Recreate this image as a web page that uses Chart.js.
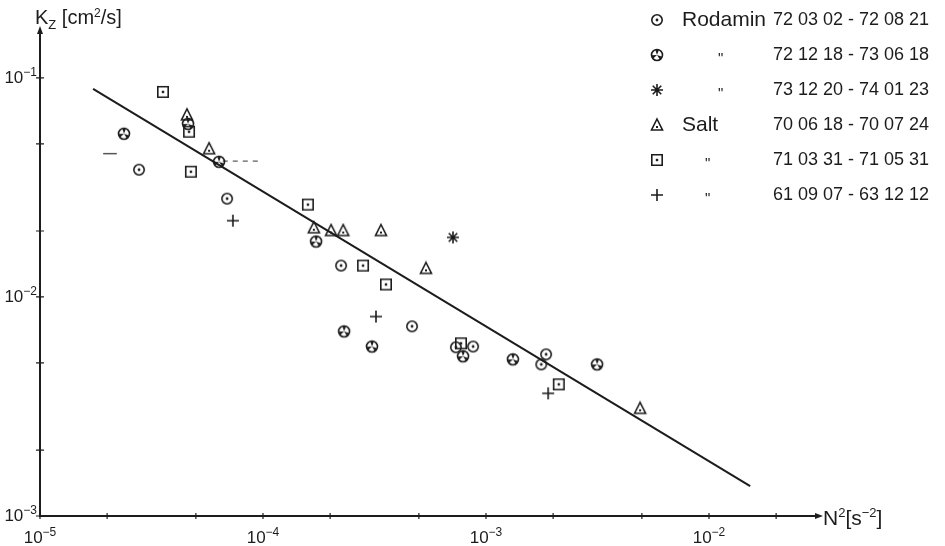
<!DOCTYPE html>
<html lang="en">
<head>
<meta charset="UTF-8">
<title>Kz versus N2</title>
<script src="https://cdn.jsdelivr.net/npm/chart.js"></script>
<style>
  html, body { margin: 0; padding: 0; background: #fff; }
  #wrap { width: 945px; height: 546px; }
</style>
</head>
<body>
<div id="wrap"><canvas id="chart" width="945" height="546"></canvas></div>
<script>
// N^2 [s^-2] (x) and Kz [cm^2/s] (y)
const rodA_N = [2.78e-5, 6.9e-5, 2.24e-4, 4.66e-4, 7.33e-4, 8.75e-4, 1.86e-3, 1.77e-3];
const rodA_K = [0.0381, 0.0281, 0.0139, 0.00734, 0.00589, 0.00594, 0.00547, 0.00492];

const rodB_N = [2.38e-5, 4.61e-5, 6.35e-5, 1.73e-4, 2.31e-4, 3.08e-4, 7.89e-4, 1.32e-3, 3.15e-3];
const rodB_K = [0.0556, 0.0617, 0.0414, 0.0179, 0.00696, 0.00594, 0.00536, 0.00519, 0.00492];

const rodC_N = [7.11e-4];
const rodC_K = [0.0187];

const saltA_N = [4.56e-5, 5.73e-5, 1.69e-4, 2.02e-4, 2.29e-4, 3.38e-4, 5.38e-4, 4.91e-3];
const saltA_K = [0.0678, 0.0475, 0.0207, 0.0201, 0.0201, 0.0201, 0.0135, 0.0031];

const saltB_N = [3.56e-5, 4.66e-5, 4.75e-5, 1.59e-4, 2.81e-4, 3.56e-4, 7.72e-4, 2.12e-3];
const saltB_K = [0.0863, 0.0568, 0.0373, 0.0264, 0.0139, 0.0114, 0.00614, 0.00399];

const saltC_N = [7.33e-5, 3.21e-4, 1.9e-3];
const saltC_K = [0.0223, 0.00814, 0.00363];

// fitted line end points
const fitN = [1.73e-5, 1.53e-2];
const fitK = [0.0891, 0.00137];

// stray marks on the original (short dash, dashed range)
const dashN = [1.92e-5, 2.21e-5];
const dashK = [0.0451, 0.0451];
const rangeN = [6.6e-5, 9.5e-5];
const rangeK = [0.0417, 0.0417];

const legendNames = ['Rodamin', '"', '"', 'Salt', '"', '"'];
const legendPeriods = ['72 03 02 - 72 08 21', '72 12 18 - 73 06 18', '73 12 20 - 74 01 23',
                       '70 06 18 - 70 07 24', '71 03 31 - 71 05 31', '61 09 07 - 63 12 12'];
const legendSyms = ['circleDot', 'circleCross', 'star', 'triangle', 'squareDot', 'plus'];

const xTickVals = [1e-5, 2e-5, 5e-5, 1e-4, 2e-4, 5e-4, 1e-3, 2e-3, 5e-3, 1e-2, 2e-2];
const xTickExp = [-5, null, null, -4, null, null, -3, null, null, -2, null];
const yTickVals = [1e-3, 2e-3, 5e-3, 1e-2, 2e-2, 5e-2, 1e-1];
const yTickExp = [-3, null, null, -2, null, null, -1];

const ink = '#1c1c1c';
const FONT = '"Liberation Sans", Arial, sans-serif';

function drawSym(g, kind, cx, cy) {
    g.strokeStyle = ink;
    g.fillStyle = ink;
    g.lineWidth = 1.6;
    g.beginPath();
    if (kind === 'circleDot') {
        g.arc(cx, cy, 5.2, 0, Math.PI * 2);
        g.stroke();
        g.beginPath();
        g.arc(cx, cy, 1.4, 0, Math.PI * 2);
        g.fill();
    } else if (kind === 'circleCross') {
        g.arc(cx, cy, 5.5, 0, Math.PI * 2);
        g.stroke();
        g.beginPath();
        g.moveTo(cx, cy); g.arc(cx, cy, 5.5, -1.9, -1.2); g.closePath();
        g.moveTo(cx, cy); g.arc(cx, cy, 5.5, 0.3, 1.0); g.closePath();
        g.moveTo(cx, cy); g.arc(cx, cy, 5.5, 2.4, 3.1); g.closePath();
        g.fill();
    } else if (kind === 'star') {
        for (let i = 0; i < 4; i++) {
            const a = i * Math.PI / 4;
            g.moveTo(cx - 6 * Math.cos(a), cy - 6 * Math.sin(a));
            g.lineTo(cx + 6 * Math.cos(a), cy + 6 * Math.sin(a));
        }
        g.stroke();
    } else if (kind === 'triangle') {
        g.moveTo(cx, cy - 6);
        g.lineTo(cx + 5.5, cy + 5);
        g.lineTo(cx - 5.5, cy + 5);
        g.closePath();
        g.stroke();
        g.fillRect(cx - 1, cy + 1, 2, 2);
    } else if (kind === 'squareDot') {
        g.rect(cx - 5.2, cy - 5.2, 10.4, 10.4);
        g.stroke();
        g.fillRect(cx - 1.2, cy - 1.2, 2.4, 2.4);
    } else if (kind === 'plus') {
        g.moveTo(cx - 6, cy); g.lineTo(cx + 6, cy);
        g.moveTo(cx, cy - 6); g.lineTo(cx, cy + 6);
        g.stroke();
    }
}

function makeSym(kind) {
    const c = document.createElement('canvas');
    c.width = 16; c.height = 16;
    drawSym(c.getContext('2d'), kind, 8, 8);
    return c;
}

function pts(xs, ys) {
    return xs.map((v, i) => ({ x: v, y: ys[i] }));
}

// draws a run of [text, size, dy] pieces starting at x (baseline y)
function drawRun(ctx, parts, x, y, align) {
    let w = 0;
    parts.forEach(p => { ctx.font = p[1] + 'px ' + FONT; w += ctx.measureText(p[0]).width; });
    let cx = align === 'right' ? x - w : align === 'center' ? x - w / 2 : x;
    ctx.textAlign = 'left';
    ctx.textBaseline = 'alphabetic';
    parts.forEach(p => {
        ctx.font = p[1] + 'px ' + FONT;
        ctx.fillText(p[0], cx, y + p[2]);
        cx += ctx.measureText(p[0]).width;
    });
}

function powParts(e) {
    return [['10', 17, 0], ['\u2212' + (-e), 12, -7]];
}

const series = [
    [rodA_N, rodA_K], [rodB_N, rodB_K], [rodC_N, rodC_K],
    [saltA_N, saltA_K], [saltB_N, saltB_K], [saltC_N, saltC_K]
];

const datasets = series.map((s, i) => ({
    label: legendNames[i] + ' ' + legendPeriods[i],
    data: pts(s[0], s[1]),
    pointStyle: makeSym(legendSyms[i]),
    pointRadius: 6,
    showLine: false
}));

datasets.push({
    label: 'fit', data: pts(fitN, fitK), showLine: true, pointRadius: 0,
    borderColor: ink, borderWidth: 2
});
datasets.push({
    label: 'dash', data: pts(dashN, dashK), showLine: true, pointRadius: 0,
    borderColor: '#555', borderWidth: 1.5
});
datasets.push({
    label: 'range', data: pts(rangeN, rangeK), showLine: true, pointRadius: 0,
    borderColor: '#555', borderWidth: 1.2, borderDash: [5, 5]
});

// tick crosses, tick labels, arrow heads, axis titles and the legend block
const decorations = {
    id: 'decorations',
    afterDraw(chart) {
        const { ctx, chartArea: a, scales: { x, y } } = chart;
        ctx.save();
        ctx.strokeStyle = ink;
        ctx.fillStyle = ink;
        ctx.lineWidth = 1.2;
        ctx.beginPath();
        xTickVals.forEach(v => {
            const px = x.getPixelForValue(v);
            ctx.moveTo(px, a.bottom - 3); ctx.lineTo(px, a.bottom + 3);
        });
        yTickVals.forEach(v => {
            const py = y.getPixelForValue(v);
            ctx.moveTo(a.left - 4, py); ctx.lineTo(a.left + 4, py);
        });
        ctx.stroke();

        xTickVals.forEach((v, i) => {
            if (xTickExp[i] === null) return;
            drawRun(ctx, powParts(xTickExp[i]), x.getPixelForValue(v), a.bottom + 27, 'center');
        });
        yTickVals.forEach((v, i) => {
            if (yTickExp[i] === null) return;
            drawRun(ctx, powParts(yTickExp[i]), a.left - 3, y.getPixelForValue(v) + 5, 'right');
        });

        // arrows
        ctx.beginPath();
        ctx.moveTo(a.right + 6, a.bottom);
        ctx.lineTo(a.right - 2, a.bottom - 3);
        ctx.lineTo(a.right - 2, a.bottom + 3);
        ctx.closePath();
        ctx.moveTo(a.left, a.top - 6);
        ctx.lineTo(a.left - 3, a.top + 2);
        ctx.lineTo(a.left + 3, a.top + 2);
        ctx.closePath();
        ctx.fill();

        // axis titles
        drawRun(ctx, [['K', 20, 0], ['Z', 13, 5], [' [cm', 20, 0], ['2', 12, -7], ['/s]', 20, 0]], 35, 24, 'left');
        drawRun(ctx, [['N', 21, 0], ['2', 13, -8], ['[s', 21, 0], ['\u22122', 13, -8], [']', 21, 0]],
                a.right + 6, a.bottom + 9, 'left');

        // legend
        const rowY = [20, 55, 90, 125, 160, 195];
        const nameX = [682, 718, 718, 682, 705, 705];
        rowY.forEach((ry, i) => {
            drawSym(ctx, legendSyms[i], 657, ry);
            ctx.textBaseline = 'middle';
            ctx.textAlign = 'left';
            if (legendNames[i] === '"') {
                ctx.font = '15px ' + FONT;
                ctx.fillText(legendNames[i], nameX[i], ry + 4);
            } else {
                ctx.font = '21px ' + FONT;
                ctx.fillText(legendNames[i], nameX[i], ry);
            }
            ctx.font = '18px ' + FONT;
            ctx.fillText(legendPeriods[i], 773, ry);
        });
        ctx.restore();
    }
};

new Chart(document.getElementById('chart'), {
    type: 'scatter',
    data: { datasets: datasets },
    options: {
        responsive: false,
        animation: false,
        layout: { padding: { top: 32, right: 128, left: 0, bottom: 0 } },
        plugins: { legend: { display: false }, tooltip: { enabled: false } },
        scales: {
            x: {
                type: 'logarithmic',
                min: 1e-5,
                max: 0.0305,
                border: { display: true, color: ink, width: 2 },
                grid: { display: false },
                afterBuildTicks: s => { s.ticks = xTickVals.map(v => ({ value: v })); },
                afterFit: s => { s.height = 30; },
                ticks: { display: false }
            },
            y: {
                type: 'logarithmic',
                min: 1e-3,
                max: 0.162,
                border: { display: true, color: ink, width: 2 },
                grid: { display: false },
                afterBuildTicks: s => { s.ticks = yTickVals.map(v => ({ value: v })); },
                afterFit: s => { s.width = 40; },
                ticks: { display: false }
            }
        }
    },
    plugins: [decorations]
});
</script>
</body>
</html>
